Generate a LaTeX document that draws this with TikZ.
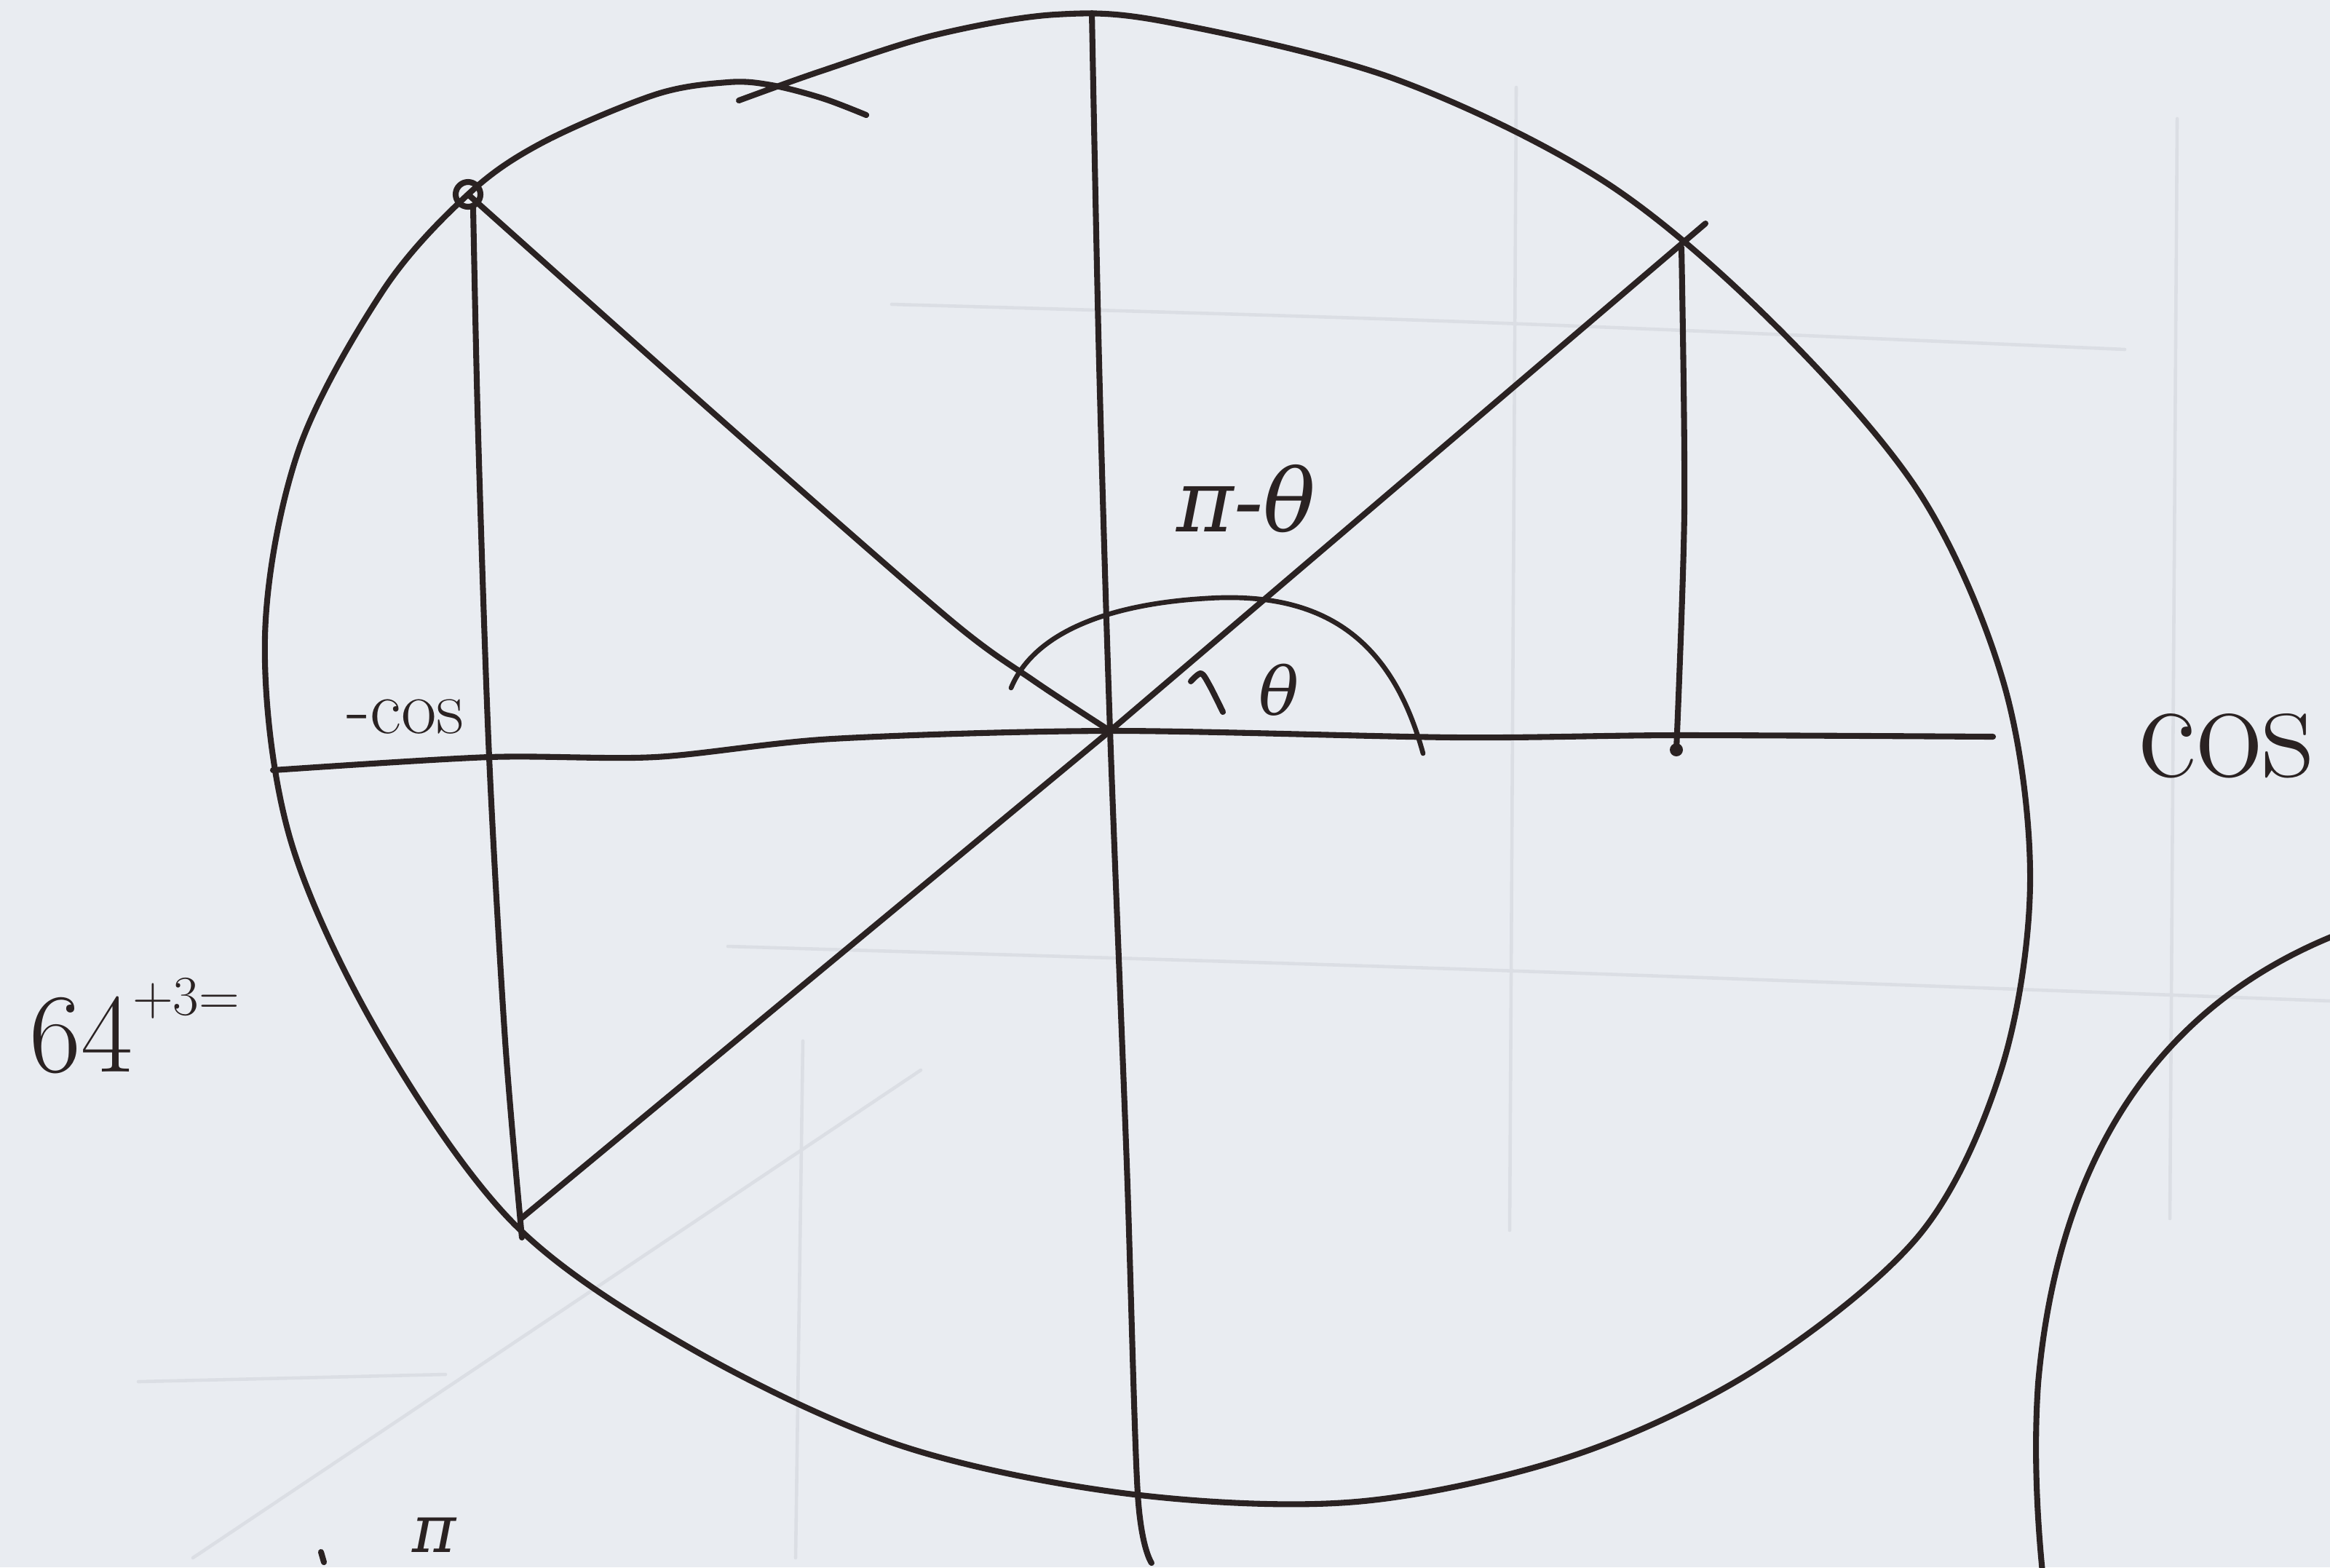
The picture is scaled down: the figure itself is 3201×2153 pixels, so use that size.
\documentclass[tikz,border=0pt]{standalone}
\usepackage{fontspec}
\newfontfamily\greekfont{DejaVu Serif}
\definecolor{paper}{RGB}{233,236,241}
\definecolor{inkc}{RGB}{42,34,34}
\definecolor{pencilc}{RGB}{219,222,228}
\tikzset{
  ink/.style={draw=inkc, line width=2.3pt, line cap=round, line join=round},
  thinink/.style={draw=inkc, line width=1.9pt, line cap=round, line join=round},
  pencil/.style={draw=pencilc, line width=1.3pt, line cap=round},
  hand/.style={text=inkc, inner sep=0pt, outer sep=0pt}
}
\begin{document}
\begin{tikzpicture}[x=0.01cm, y=-0.01cm]
  \fill[paper] (0,0) rectangle (3201,2153);
  \useasboundingbox (0,0) rectangle (3201,2153);

  % faint pencil lines on the paper
  \draw[pencil] (1225,418) .. controls (2000,440) .. (2919,480);
  \draw[pencil] (1000,1300) .. controls (2000,1330) .. (3201,1375);
  \draw[pencil] (2083,120) -- (2074,1690);
  \draw[pencil] (2991,163) -- (2981,1674);
  \draw[pencil] (1103,1430) -- (1093,2140);
  \draw[pencil] (190,1898) -- (612,1888);
  \draw[pencil] (265,2140) -- (1265,1470);

  % named points
  \coordinate (O) at (1525,1004);
  \coordinate (P) at (643,267);
  \coordinate (Q) at (2343,307);
  \coordinate (R) at (717,1673);
  \coordinate (Rv) at (2303,1030);

  % hand-drawn circle (one stroke, overlapping at the top)
  \draw[ink] plot[smooth, tension=0.55] coordinates {
    (1015,138) (1130,97) (1285,48) (1450,20) (1602,30) (1915,108)
    (2205,250) (2440,448) (2640,682) (2754,943) (2789,1211) (2750,1467)
    (2638,1695) (2414,1880) (2160,2000) (1863,2063) (1550,2052)
    (1235,1985) (945,1850) (705,1680) (520,1420) (398,1150) (364,875)
    (410,619) (527,398) (P) (745,196) (900,130) (1000,113) (1060,117)
    (1130,135) (1190,158)};

  % marked point on the circle
  \draw[ink] (P) circle (0.17cm);

  % axes
  \draw[ink] plot[smooth] coordinates {(1500,18) (1510,500) (O) (1548,1600) (1563,2052) (1582,2147)};
  \draw[ink] plot[smooth] coordinates {(375,1058) (672,1040) (900,1040) (1143,1015) (O) (2000,1013) (2303,1010) (2738,1012)};

  % radius to P and the diagonal through O
  \draw[ink] plot[smooth] coordinates {(P) (1000,585) (1306,852) (1420,935) (O)};
  \draw[ink] (R) -- (O) -- (Q);

  % vertical drops
  \draw[ink] plot[smooth] coordinates {(650,285) (657,600) (672,1040) (694,1430) (717,1700)};
  \draw[ink] plot[smooth] coordinates {(2310,340) (2314,700) (Rv)};
  \fill[inkc] (Rv) circle (0.09cm);

  % angle arcs
  \draw[thinink] (1389,945) .. controls (1420,870) and (1520,830) .. (1657,822)
                 .. controls (1810,812) and (1910,870) .. (1955,1035);
  \draw[ink] plot[smooth] coordinates {(1636,936) (1650,925) (1662,942) (1680,978)};

  % second circle at the lower right
  \draw[ink] (3215,1282) .. controls (2990,1370) and (2830,1560) .. (2800,1900)
             .. controls (2793,2000) and (2800,2100) .. (2806,2160);

  % labels
  \node[hand] (pitheta) at (1712,685) {\fontsize{34}{40}\selectfont\greekfont\itshape π-θ};
  \node[hand] (theta) at (1757,948) {\fontsize{26}{30}\selectfont\greekfont\itshape θ};
  \node[hand] (mcos) at (557,985) {\fontsize{30}{34}\selectfont -cos};
  \node[hand] (cosr) at (3058,1025) {\fontsize{56}{60}\selectfont cos};
  \node[hand, anchor=base west] (eq) at (40,1472) {\fontsize{44}{50}\selectfont 64\raisebox{0.5em}{\fontsize{22}{26}\selectfont +3=}};
  \node[hand, anchor=south] (pib) at (597,2132) {\fontsize{26}{30}\selectfont\greekfont\itshape π};
  \draw[ink] (441,2132) -- (445,2146);
\end{tikzpicture}
\end{document}
